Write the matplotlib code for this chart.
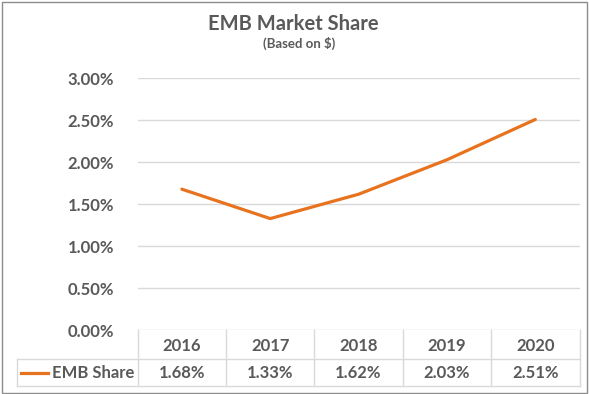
import matplotlib
matplotlib.use("Agg")
import matplotlib.pyplot as plt
from matplotlib.lines import Line2D
from matplotlib.patches import Rectangle
from matplotlib.ticker import FuncFormatter

years = ["2016", "2017", "2018", "2019", "2020"]
share = [1.68, 1.33, 1.62, 2.03, 2.51]   # percent
series_name = "EMB Share"
title = "EMB Market Share"
subtitle = "(Based on $)"
yticks = [0.0, 0.5, 1.0, 1.5, 2.0, 2.5, 3.0]

W, H = 589, 394
TXT = "#595959"
GRID = "#D9D9D9"
ORANGE = "#E8731F"
FONT = "Lato"

plt.rcParams['font.family'] = [FONT, 'DejaVu Sans']

fig = plt.figure(figsize=(W / 100, H / 100), dpi=100)

def fx(px):
    return px / W

def fy(py):
    return 1 - py / H

# plot area in pixel coords
L, R, T, B = 137.7, 579.5, 78.3, 330.3
ax = fig.add_axes([fx(L), fy(B), fx(R) - fx(L), fy(T) - fy(B)])
n = len(years)
xs = [i + 0.5 for i in range(n)]
ax.plot(xs, share, color=ORANGE, lw=2.3, solid_capstyle='round', solid_joinstyle='round', zorder=3)
ax.set_xlim(0, n)
ax.set_ylim(0, 3.0)
ax.set_yticks(yticks)
ax.yaxis.set_major_formatter(FuncFormatter(lambda v, p: f"{v:.2f}%"))
ax.grid(axis='y', color=GRID, lw=1.0)
ax.set_xticks([])
for s in ax.spines.values():
    s.set_visible(False)
ax.tick_params(axis='y', length=0, pad=17, labelsize=12, labelcolor=TXT)
for lab in ax.get_yticklabels():
    lab.set_fontweight('bold')

# title
fig.text(fx(293), fy(24), title, ha='center', va='center', fontsize=14.5,
         fontweight='bold', color=TXT)
fig.text(fx(299.5), fy(43.5), subtitle, ha='center', va='center', fontsize=9.5,
         fontweight='bold', color=TXT)

# data table
row1_top, row1_bot, row2_bot = 330.3, 359.3, 385.8
legend_left = 17.3
colw = (R - L) / n

def hline(y, x0, x1):
    fig.add_artist(Line2D([fx(x0), fx(x1)], [fy(y), fy(y)], color=GRID, lw=1.0,
                          transform=fig.transFigure))

def vline(x, y0, y1):
    fig.add_artist(Line2D([fx(x), fx(x)], [fy(y0), fy(y1)], color=GRID, lw=1.0,
                          transform=fig.transFigure))

hline(row1_bot, legend_left, R)
hline(row2_bot, legend_left, R)
vline(legend_left, row1_bot, row2_bot)
for i in range(n + 1):
    vline(L + i * colw, row1_top, row2_bot)

for i, (yr, v) in enumerate(zip(years, share)):
    cx = L + (i + 0.5) * colw
    fig.text(fx(cx), fy((row1_top + row1_bot) / 2 + 1.5), yr, ha='center', va='center',
             fontsize=12, fontweight='bold', color=TXT)
    fig.text(fx(cx), fy((row1_bot + row2_bot) / 2 + 0.5), f"{v:.2f}%", ha='center',
             va='center', fontsize=12, fontweight='bold', color=TXT)

# legend key
ky = (row1_bot + row2_bot) / 2 + 0.5
fig.add_artist(Line2D([fx(20.7), fx(48.3)], [fy(ky), fy(ky)], color=ORANGE, lw=2.3,
                      transform=fig.transFigure))
fig.text(fx(134.5), fy(ky), series_name, ha='right', va='center', fontsize=12,
         fontweight='bold', color=TXT)

# figure border
fig.add_artist(Rectangle((fx(1.5), fy(392.5)), fx(586.5) - fx(1.5), fy(1.5) - fy(392.5),
                         fill=False, edgecolor="#8C8C8C", lw=1.0, transform=fig.transFigure))

fig.savefig("out.png", dpi=100)
